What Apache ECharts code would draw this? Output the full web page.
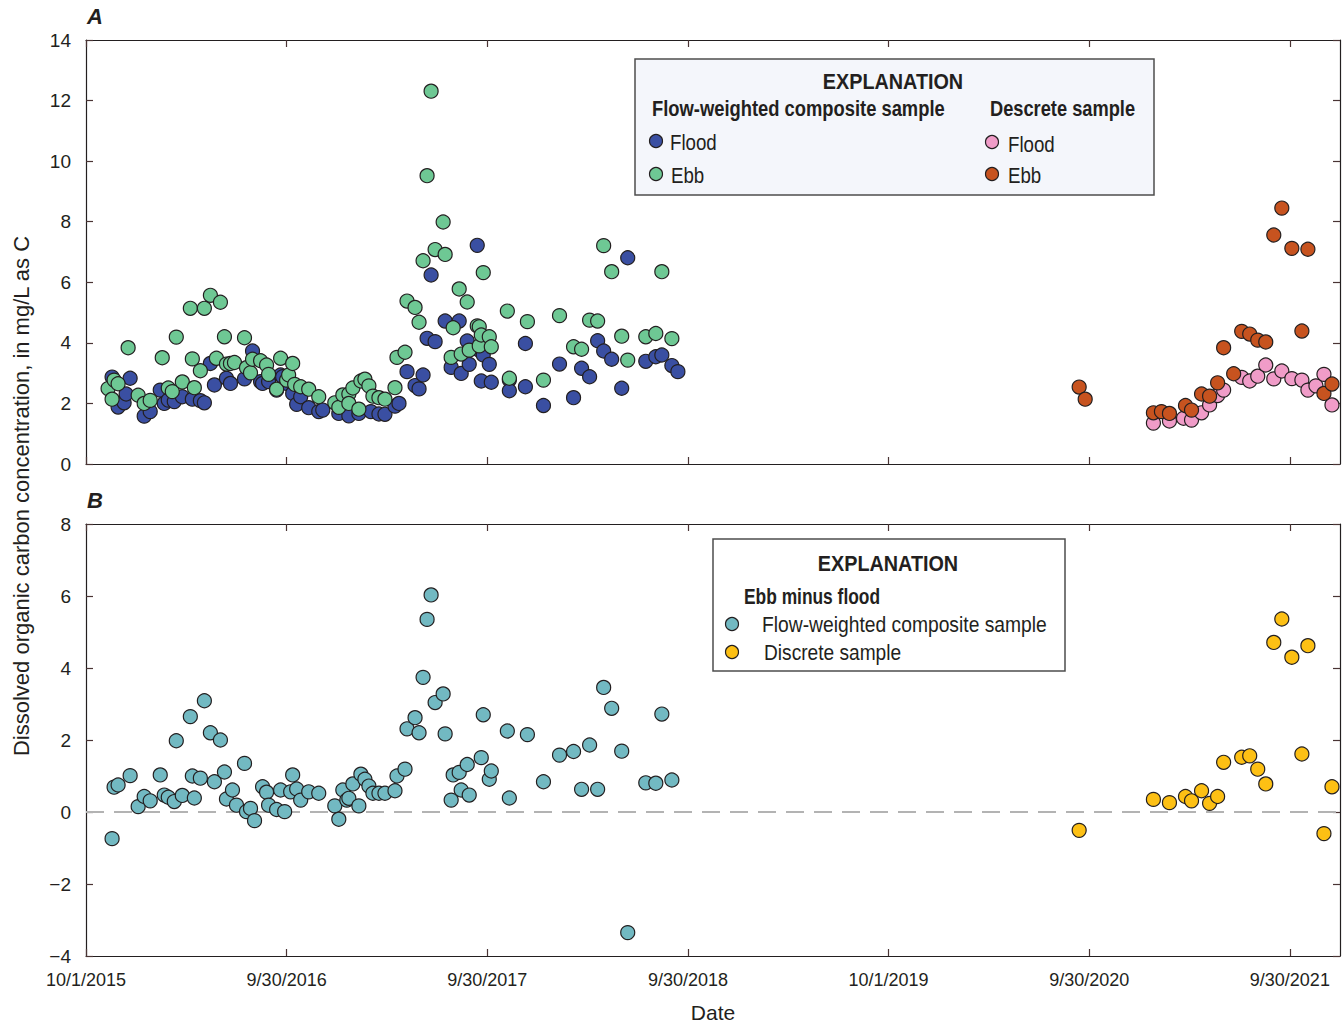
<!DOCTYPE html>
<html>
<head>
<meta charset="utf-8">
<script src="https://cdn.jsdelivr.net/npm/echarts@6.0.0/dist/echarts.min.js"></script>
<style>
html,body{margin:0;padding:0;background:#fff;}
#chart{width:1343px;height:1026px;}
</style>
</head>
<body>
<div id="chart"></div>
<script>
// ---- Data (x = decimal year, y = mg/L) ----
const xTickValues = [2015.75, 2016.75, 2017.75, 2018.75, 2019.75, 2020.75, 2021.75];
const xTickLabels = ['10/1/2015','9/30/2016','9/30/2017','9/30/2018','10/1/2019','9/30/2020','9/30/2021'];
const yTicksA = [0, 2, 4, 6, 8, 10, 12, 14];
const yTicksB = [-4, -2, 0, 2, 4, 6, 8];

const floodComposite = [
[2015.88,2.87],[2015.91,1.88],[2015.94,2.02],[2015.95,2.31],[2015.97,2.83],[2016.04,1.58],[2016.07,1.73],[2016.12,2.44],[2016.14,2.00],[2016.16,2.11],[2016.19,2.06],[2016.23,2.22],[2016.28,2.14],[2016.32,2.09],[2016.34,2.02],[2016.37,3.32],[2016.39,2.61],[2016.45,2.83],[2016.47,2.66],[2016.54,2.81],[2016.58,3.73],[2016.62,2.72],[2016.63,2.66],[2016.66,2.72],[2016.70,2.44],[2016.72,2.94],[2016.73,2.88],[2016.75,2.66],[2016.78,2.33],[2016.80,1.97],[2016.82,2.22],[2016.86,1.86],[2016.91,1.73],[2016.93,1.78],[2017.01,1.67],[2017.06,1.59],[2017.11,1.67],[2017.17,1.73],[2017.21,1.65],[2017.24,1.64],[2017.29,1.91],[2017.31,2.00],[2017.35,3.05],[2017.39,2.59],[2017.41,2.48],[2017.43,2.94],[2017.45,4.15],[2017.47,6.24],[2017.49,4.04],[2017.54,4.72],[2017.57,3.19],[2017.61,4.72],[2017.62,2.99],[2017.65,4.06],[2017.66,3.29],[2017.70,7.22],[2017.71,3.76],[2017.72,2.74],[2017.73,3.60],[2017.76,3.29],[2017.77,2.70],[2017.86,2.77],[2017.86,2.42],[2017.94,3.98],[2017.94,2.55],[2018.03,1.93],[2018.11,3.30],[2018.18,2.19],[2018.22,3.16],[2018.26,2.88],[2018.30,4.07],[2018.33,3.73],[2018.37,3.46],[2018.42,2.50],[2018.45,6.81],[2018.54,3.39],[2018.59,3.54],[2018.62,3.60],[2018.67,3.25],[2018.70,3.05]
];
const ebbComposite = [
[2015.86,2.49],[2015.88,2.14],[2015.89,2.77],[2015.91,2.65],[2015.96,3.84],[2016.01,2.27],[2016.04,2.00],[2016.07,2.10],[2016.13,3.51],[2016.16,2.51],[2016.18,2.39],[2016.20,4.19],[2016.23,2.71],[2016.27,5.14],[2016.28,3.47],[2016.29,2.52],[2016.32,3.08],[2016.34,5.14],[2016.37,5.57],[2016.40,3.49],[2016.42,5.34],[2016.44,4.20],[2016.45,3.30],[2016.47,3.32],[2016.49,3.35],[2016.54,4.17],[2016.55,3.18],[2016.57,3.01],[2016.58,3.46],[2016.62,3.41],[2016.65,3.27],[2016.66,2.96],[2016.70,2.47],[2016.72,3.49],[2016.75,2.77],[2016.76,2.94],[2016.78,3.32],[2016.79,2.63],[2016.82,2.55],[2016.86,2.47],[2016.91,2.22],[2016.99,2.02],[2017.01,1.87],[2017.03,2.28],[2017.06,2.31],[2017.06,2.00],[2017.08,2.51],[2017.11,1.81],[2017.12,2.74],[2017.14,2.80],[2017.16,2.58],[2017.18,2.24],[2017.21,2.19],[2017.24,2.14],[2017.29,2.52],[2017.30,3.52],[2017.34,3.69],[2017.35,5.38],[2017.39,5.17],[2017.41,4.68],[2017.43,6.71],[2017.45,9.52],[2017.47,12.31],[2017.49,7.08],[2017.53,7.99],[2017.54,6.92],[2017.57,3.52],[2017.58,4.50],[2017.61,5.78],[2017.62,3.63],[2017.65,5.35],[2017.66,3.76],[2017.70,4.56],[2017.71,3.90],[2017.71,4.53],[2017.72,4.26],[2017.73,6.32],[2017.76,4.20],[2017.77,3.87],[2017.85,5.05],[2017.86,2.83],[2017.95,4.70],[2018.03,2.77],[2018.11,4.90],[2018.18,3.87],[2018.22,3.79],[2018.26,4.75],[2018.30,4.72],[2018.33,7.21],[2018.37,6.35],[2018.42,4.22],[2018.45,3.43],[2018.54,4.20],[2018.59,4.31],[2018.62,6.35],[2018.67,4.14]
];
const floodDiscrete = [
[2021.07,1.35],[2021.15,1.42],[2021.22,1.51],[2021.26,1.45],[2021.31,1.69],[2021.35,1.95],[2021.39,2.26],[2021.42,2.44],[2021.51,2.86],[2021.55,2.74],[2021.59,2.90],[2021.63,3.27],[2021.67,2.81],[2021.71,3.07],[2021.76,2.82],[2021.81,2.77],[2021.84,2.44],[2021.88,2.58],[2021.92,2.96],[2021.96,1.95]
];
const ebbDiscrete = [
[2020.70,2.54],[2020.73,2.14],[2021.07,1.69],[2021.11,1.73],[2021.15,1.67],[2021.23,1.93],[2021.26,1.78],[2021.31,2.31],[2021.35,2.24],[2021.39,2.68],[2021.42,3.84],[2021.47,2.98],[2021.51,4.38],[2021.55,4.29],[2021.59,4.09],[2021.63,4.03],[2021.67,7.56],[2021.71,8.45],[2021.76,7.12],[2021.81,4.39],[2021.84,7.09],[2021.92,2.33],[2021.96,2.64]
];
const diffComposite = [
[2015.88,-0.74],[2015.89,0.69],[2015.91,0.75],[2015.97,1.01],[2016.01,0.15],[2016.04,0.43],[2016.07,0.31],[2016.12,1.03],[2016.14,0.47],[2016.16,0.41],[2016.19,0.29],[2016.20,1.98],[2016.23,0.46],[2016.27,2.65],[2016.28,1.00],[2016.29,0.39],[2016.32,0.94],[2016.34,3.09],[2016.37,2.20],[2016.39,0.84],[2016.42,2.00],[2016.44,1.11],[2016.45,0.36],[2016.48,0.61],[2016.50,0.19],[2016.54,1.35],[2016.55,0.01],[2016.57,0.10],[2016.59,-0.24],[2016.63,0.70],[2016.65,0.55],[2016.66,0.19],[2016.70,0.07],[2016.72,0.61],[2016.74,0.01],[2016.77,0.56],[2016.78,1.03],[2016.80,0.64],[2016.82,0.33],[2016.86,0.56],[2016.91,0.52],[2016.99,0.17],[2017.01,-0.20],[2017.03,0.61],[2017.05,0.33],[2017.06,0.38],[2017.08,0.78],[2017.11,0.17],[2017.12,1.05],[2017.14,0.91],[2017.16,0.72],[2017.18,0.52],[2017.21,0.52],[2017.24,0.52],[2017.29,0.59],[2017.30,1.00],[2017.34,1.19],[2017.35,2.31],[2017.39,2.62],[2017.41,2.20],[2017.43,3.74],[2017.45,5.35],[2017.47,6.03],[2017.49,3.04],[2017.53,3.28],[2017.54,2.17],[2017.57,0.33],[2017.58,1.03],[2017.61,1.10],[2017.62,0.61],[2017.65,1.32],[2017.66,0.47],[2017.72,1.51],[2017.73,2.70],[2017.76,0.91],[2017.77,1.14],[2017.85,2.25],[2017.86,0.39],[2017.95,2.15],[2018.03,0.84],[2018.11,1.58],[2018.18,1.68],[2018.22,0.63],[2018.26,1.86],[2018.30,0.63],[2018.33,3.46],[2018.37,2.88],[2018.42,1.69],[2018.45,-3.35],[2018.54,0.81],[2018.59,0.80],[2018.62,2.72],[2018.67,0.89]
];
const diffDiscrete = [
[2020.70,-0.51],[2021.07,0.35],[2021.15,0.26],[2021.23,0.43],[2021.26,0.31],[2021.31,0.59],[2021.35,0.24],[2021.39,0.43],[2021.42,1.38],[2021.51,1.52],[2021.55,1.56],[2021.59,1.19],[2021.63,0.78],[2021.67,4.71],[2021.71,5.36],[2021.76,4.30],[2021.81,1.61],[2021.84,4.62],[2021.92,-0.60],[2021.96,0.70]
];

// ---- Styling ----
const FONT = "'Liberation Sans',Arial,sans-serif";
const INK = '#231f20';
const C = {flood:'#3a4fa2', ebb:'#6ec894', pink:'#f09cc8', orange:'#c7531f', teal:'#72b9c2', yellow:'#fdc014'};
const lineStyle = {color: INK, width: 1.2};
const tickStyle = {color: '#4a3434', width: 1.2};

function xAxesFor(grid, withLabels) {
  const base = {
    gridIndex: grid, type: 'value', min: 2015.75, max: 2022,
    axisLine: {show: true, onZero: false, lineStyle},
    axisTick: {show: true, inside: true, length: 7, customValues: xTickValues, lineStyle: tickStyle},
    splitLine: {show: false}
  };
  const bottom = Object.assign({}, base, {
    position: 'bottom',
    axisLabel: withLabels ? {
      show: true, customValues: xTickValues, margin: 15,
      fontFamily: FONT, fontSize: 18, color: INK,
      formatter: v => xTickLabels[Math.round(v - 2015.75)]
    } : {show: false}
  });
  if (withLabels) {
    bottom.name = 'Date';
    bottom.nameLocation = 'middle';
    bottom.nameGap = 46;
    bottom.nameTextStyle = {fontFamily: FONT, fontSize: 21, color: INK};
  }
  const top = Object.assign({}, base, {position: 'top', axisLabel: {show: false}});
  return [bottom, top];
}
function yAxesFor(grid, ticks) {
  const base = {
    gridIndex: grid, type: 'value', min: ticks[0], max: ticks[ticks.length - 1], interval: 2,
    axisLine: {show: true, onZero: false, lineStyle},
    axisTick: {show: true, inside: true, length: 7, lineStyle: tickStyle},
    splitLine: {show: false}
  };
  const left = Object.assign({}, base, {
    position: 'left',
    axisLabel: {show: true, margin: 15, fontFamily: FONT, fontSize: 19, color: INK,
      formatter: v => v < 0 ? '\u2212' + Math.abs(v) : String(v)}
  });
  const right = Object.assign({}, base, {position: 'right', axisLabel: {show: false}});
  return [left, right];
}
function scatter(name, data, color, xi, yi, extra) {
  return Object.assign({
    name, type: 'scatter', data, xAxisIndex: xi, yAxisIndex: yi,
    symbol: 'circle', symbolSize: 14,
    itemStyle: {color, borderColor: INK, borderWidth: 1.2, opacity: 1},
    emphasis: {disabled: true}, z: 3
  }, extra || {});
}

const xAx = xAxesFor(0, false).concat(xAxesFor(1, true));
const yAx = yAxesFor(0, yTicksA).concat(yAxesFor(1, yTicksB));

// text with horizontal condensing (scaleX) to imitate a condensed typeface
function txt(text, x, y, opt, sx) {
  return {type: 'text', x, y, z: 100, scaleX: sx || 0.86, scaleY: 1, style: Object.assign({
    text, fill: INK, fontFamily: FONT, fontSize: 22, align: 'left', verticalAlign: 'middle'
  }, opt || {})};
}
function dot(cx, cy, color) {
  return {type: 'circle', z: 100, shape: {cx, cy, r: 6.5}, style: {fill: color, stroke: INK, lineWidth: 1.2}};
}

const graphics = [
  // panel letters
  txt('A', 87, 16, {fontWeight: 'bold', fontStyle: 'italic', fontSize: 22}, 1),
  txt('B', 87, 500, {fontWeight: 'bold', fontStyle: 'italic', fontSize: 22}, 1),
  // y-axis title
  {type: 'text', x: 21, y: 496, rotation: Math.PI / 2, z: 100,
   style: {text: 'Dissolved organic carbon concentration, in mg/L as C', fill: INK, fontFamily: FONT, fontSize: 22, align: 'center', verticalAlign: 'middle'}},
  // legend A
  {type: 'rect', z: 90, shape: {x: 635, y: 59, width: 519, height: 136}, style: {fill: '#f4f6fb', stroke: '#4d4d4d', lineWidth: 1.5}},
  txt('EXPLANATION', 893, 81, {fontWeight: 'bold', align: 'center'}, 0.9),
  txt('Flow-weighted composite sample', 652, 108, {fontWeight: 'bold'}, 0.835),
  txt('Descrete sample', 990, 108, {fontWeight: 'bold'}, 0.83),
  dot(656, 141, C.flood), txt('Flood', 670, 142, {}, 0.85),
  dot(656, 174, C.ebb), txt('Ebb', 671, 175, {}, 0.85),
  dot(992, 142, C.pink), txt('Flood', 1008, 144, {}, 0.85),
  dot(992, 174, C.orange), txt('Ebb', 1008, 175, {}, 0.85),
  // legend B
  {type: 'rect', z: 90, shape: {x: 713, y: 539, width: 352, height: 132}, style: {fill: '#ffffff', stroke: '#4d4d4d', lineWidth: 1.5}},
  txt('EXPLANATION', 888, 563, {fontWeight: 'bold', align: 'center'}, 0.9),
  txt('Ebb minus flood', 744, 596, {fontWeight: 'bold'}, 0.79),
  dot(732, 624, C.teal), txt('Flow-weighted composite sample', 762, 624, {}, 0.876),
  dot(732, 652, C.yellow), txt('Discrete sample', 764, 652, {}, 0.87)
];

const option = {
  backgroundColor: '#ffffff',
  animation: false,
  grid: [
    {left: 86, right: 3, top: 40, height: 424, containLabel: false},
    {left: 86, right: 3, top: 524, height: 432, containLabel: false}
  ],
  xAxis: xAx,
  yAxis: yAx,
  series: [
    scatter('Flood (composite)', floodComposite, C.flood, 0, 0),
    scatter('Ebb (composite)', ebbComposite, C.ebb, 0, 0),
    scatter('Flood (discrete)', floodDiscrete, C.pink, 0, 0),
    scatter('Ebb (discrete)', ebbDiscrete, C.orange, 0, 0),
    scatter('Ebb minus flood, composite', diffComposite, C.teal, 2, 2, {
      markLine: {
        silent: true, symbol: ['none', 'none'], z: 1,
        label: {show: false},
        lineStyle: {color: '#b3b3b3', width: 2, type: [18, 10]},
        data: [{yAxis: 0}]
      }
    }),
    scatter('Ebb minus flood, discrete', diffDiscrete, C.yellow, 2, 2)
  ],
  graphic: graphics
};

const chart = echarts.init(document.getElementById('chart'), null, {renderer: 'svg', width: 1343, height: 1026});
chart.setOption(option);
</script>
</body>
</html>
